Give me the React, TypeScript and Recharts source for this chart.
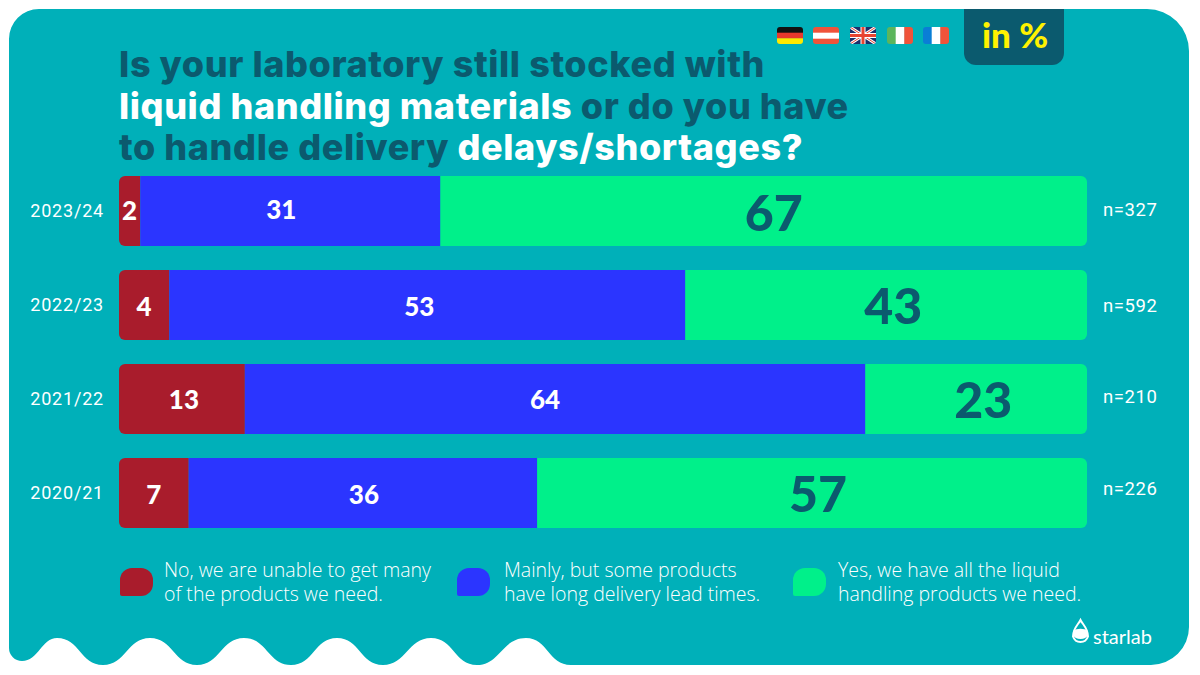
import React from "react";
import { BarChart, Bar, XAxis, YAxis, LabelList, Legend } from "recharts";

const years = ["2023/24", "2022/23", "2021/22", "2020/21"];
const sampleSizes = ["n=327", "n=592", "n=210", "n=226"];
// Lengths of the bar segments as measured in the picture
const noLengths = [2.2, 5.2, 13, 7.2];
const mainlyLengths = [31, 53.3, 64.1, 36];
const yesLengths = [66.8, 41.5, 22.9, 56.8];
// Numbers printed on the segments
const noLabels = [2, 4, 13, 7];
const mainlyLabels = [31, 53, 64, 36];
const yesLabels = [67, 43, 23, 57];
const seriesNames = [
  "No, we are unable to get many\nof the products we need.",
  "Mainly, but some products\nhave long delivery lead times.",
  "Yes, we have all the liquid\nhandling products we need.",
];

const TEAL = "#00b0b9";
const DARK = "#0b5a6e";
const RED = "#a91c2c";
const BLUE = "#2b35ff";
const GREEN = "#00f08a";
const FONT = "Lato, sans-serif";

const rows = years.map((year, i) => ({
  year,
  n: sampleSizes[i],
  no: noLengths[i],
  mainly: mainlyLengths[i],
  yes: yesLengths[i],
  noLabel: noLabels[i],
  mainlyLabel: mainlyLabels[i],
  yesLabel: yesLabels[i],
}));

const makeLabel = (fill: string, size: number, nudgeX: number[], nudgeY: number[]) => (props: any) => {
  const { x, y, width, height, value, index } = props;
  return (
    <text
      x={Number(x) + Number(width) / 2 + nudgeX[index]}
      y={Number(y) + Number(height) / 2 + nudgeY[index]}
      fill={fill}
      fontSize={size}
      fontWeight={900}
      fontFamily={FONT}
      textAnchor="middle"
      dominantBaseline="central"
    >
      {value}
    </text>
  );
};

const SampleTick = (props: any) => {
  const nudge = [-2, 0, -3, -5];
  const { x, y, payload, index } = props;
  return (
    <text
      x={x}
      y={y + nudge[index]}
      dy="0.355em"
      fill="#fff"
      fontSize={18.5}
      fontFamily="Roboto, sans-serif"
      letterSpacing={0.6}
      textAnchor="start"
    >
      {payload.value}
    </text>
  );
};

const LegendBox = (props: any) => {
  const lefts = [120, 457, 793];
  const gaps = [11, 14, 12];
  return (
    <div style={{ position: "relative", width: 1200, height: 60 }}>
      {(props.payload || []).map((entry: any, i: number) => (
        <div key={i} style={{ position: "absolute", left: lefts[i], top: 0, display: "flex" }}>
          <div
            style={{
              width: 33,
              height: 28,
              marginTop: 10,
              marginRight: gaps[i],
              background: entry.color,
              borderRadius: "12px 12px 12px 2px",
            }}
          />
          <div
            style={{
              whiteSpace: "pre",
              color: "#fff",
              fontFamily: "'Open Sans', sans-serif",
              fontWeight: 300,
              fontSize: 19.5,
              lineHeight: "24px",
            }}
          >
            {entry.value}
          </div>
        </div>
      ))}
    </div>
  );
};

const wave =
  "M39 9 H1147 A42 42 0 0 1 1189 51 V627 A38 38 0 0 1 1151 665 H571 " +
  "C548 665 548 638 526 638 C502 638 500 665 477 665 C454 665 454 638 431 638 " +
  "C408 638 406 665 383 665 C360 665 360 638 337 638 C314 638 314 665 291 665 " +
  "C268 665 267 638 244 638 C221 638 220 665 197 665 C174 665 173 638 150 638 " +
  "C127 638 126 665 103 665 C80 665 80 638 57 638 C42 638 38 661 22 661 " +
  "A13 13 0 0 1 9 648 V39 A30 30 0 0 1 39 9 Z";

const Flag = ({ x, id, children }: { x: number; id: string; children: React.ReactNode }) => (
  <g transform={`translate(${x} 27)`}>
    <clipPath id={id}>
      <rect width={26} height={17} rx={3} />
    </clipPath>
    <g clipPath={`url(#${id})`}>{children}</g>
  </g>
);

const Backdrop = () => (
  <svg width={1200} height={675} style={{ position: "absolute", left: 0, top: 0 }}>
    <path d={wave} fill={TEAL} />
    <Flag x={777} id="de">
      <rect width={26} height={6} y={0} fill="#111" />
      <rect width={26} height={6} y={5.7} fill="#e8372c" />
      <rect width={26} height={6} y={11.3} fill="#fde900" />
    </Flag>
    <Flag x={813} id="at">
      <rect width={26} height={17} fill="#f0533a" />
      <rect width={26} height={6} y={5.7} fill="#fff" />
    </Flag>
    <Flag x={850} id="gb">
      <rect width={26} height={17} fill="#1c2f6b" />
      <path d="M0 0 L26 17 M26 0 L0 17" stroke="#fff" strokeWidth={3} />
      <path d="M0 0 L26 17 M26 0 L0 17" stroke="#e8432f" strokeWidth={1} />
      <path d="M13 0 V17 M0 8.5 H26" stroke="#fff" strokeWidth={5} />
      <path d="M13 0 V17 M0 8.5 H26" stroke="#e8432f" strokeWidth={3} />
    </Flag>
    <Flag x={887} id="it">
      <rect width={9} height={17} fill="#5cb55c" />
      <rect x={8.7} width={9} height={17} fill="#fff" />
      <rect x={17.3} width={9} height={17} fill="#f0533a" />
    </Flag>
    <Flag x={923} id="fr">
      <rect width={9} height={17} fill="#0a7ed6" />
      <rect x={8.7} width={9} height={17} fill="#fff" />
      <rect x={17.3} width={9} height={17} fill="#f0533a" />
    </Flag>
    <path d="M964 9 H1064 V53 A12 12 0 0 1 1052 65 H976 A12 12 0 0 1 964 53 Z" fill={DARK} />
    <text x={1015} y={48} textAnchor="middle" fontFamily={FONT} fontWeight={900} fontSize={35} fill="#fff200">
      in %
    </text>
    <g fontFamily="Inter, sans-serif" fontWeight={800} fontSize={36} fill={DARK} letterSpacing={0.6}>
      <text x={119} y={77}>Is your laboratory still stocked with</text>
      <text x={119} y={119}>
        <tspan fill="#fff">liquid handling materials</tspan> or do you have
      </text>
      <text x={119} y={160}>
        to handle delivery <tspan fill="#fff">delays/shortages?</tspan>
      </text>
    </g>
    <path
      d="M1080.5 620 C1083 625 1088 628 1088 636.5 A8 8.5 0 0 1 1073 636.5 C1073 628 1078 625 1080.5 620 Z"
      stroke="#fff"
      fill="none"
      strokeWidth={2}
    />
    <path d="M1073 631 C1077 628 1084 628 1088 631 V635 A8 6 0 0 1 1073 635 Z" fill="#fff" />
    <text x={1093} y={644} fontFamily={FONT} fontWeight={400} fontSize={20} fill="#fff">
      starlab
    </text>
  </svg>
);

export default function App() {
  return (
    <div style={{ position: "fixed", left: 0, top: 0, width: 1200, height: 675, background: "#fff", overflow: "hidden" }}>
      <Backdrop />
      <div style={{ position: "absolute", left: 0, top: 0 }}>
        <BarChart
          width={1200}
          height={675}
          layout="vertical"
          data={rows}
          margin={{ top: 164, right: 0, bottom: 135, left: 0 }}
          barCategoryGap={24}
        >
          <XAxis type="number" domain={[0, 100]} hide />
          <YAxis
            type="category"
            dataKey="year"
            width={119}
            axisLine={false}
            tickLine={false}
            tickSize={0}
            tickMargin={15}
            tick={{ fill: "#fff", fontSize: 18, fontFamily: "Roboto, sans-serif", letterSpacing: 0.8 }}
          />
          <YAxis
            yAxisId="n"
            type="category"
            dataKey="n"
            orientation="right"
            width={113}
            axisLine={false}
            tickLine={false}
            tickSize={0}
            tickMargin={16}
            tick={<SampleTick />}
          />
          <Legend
            layout="vertical"
            align="center"
            verticalAlign="middle"
            itemSorter={null}
            wrapperStyle={{ left: 0, top: 558, width: 1200 }}
            content={<LegendBox />}
          />
          <Bar dataKey="no" name={seriesNames[0]} stackId="a" fill={RED} barSize={70} radius={[6, 0, 0, 6]} isAnimationActive={false}>
            <LabelList dataKey="noLabel" content={makeLabel("#fff", 26, [0, 0, 2, 0], [-1, 1, 0, 1])} />
          </Bar>
          <Bar dataKey="mainly" name={seriesNames[1]} stackId="a" fill={BLUE} barSize={70} isAnimationActive={false}>
            <LabelList dataKey="mainlyLabel" content={makeLabel("#fff", 26, [-9, -8, -10, 1], [-2, 1, 0, 1])} />
          </Bar>
          <Bar dataKey="yes" name={seriesNames[2]} stackId="a" fill={GREEN} barSize={70} radius={[0, 6, 6, 0]} isAnimationActive={false}>
            <LabelList dataKey="yesLabel" content={makeLabel(DARK, 50, [10, 7, 7, 6], [1, 0, 0, 0])} />
          </Bar>
        </BarChart>
      </div>
    </div>
  );
}
